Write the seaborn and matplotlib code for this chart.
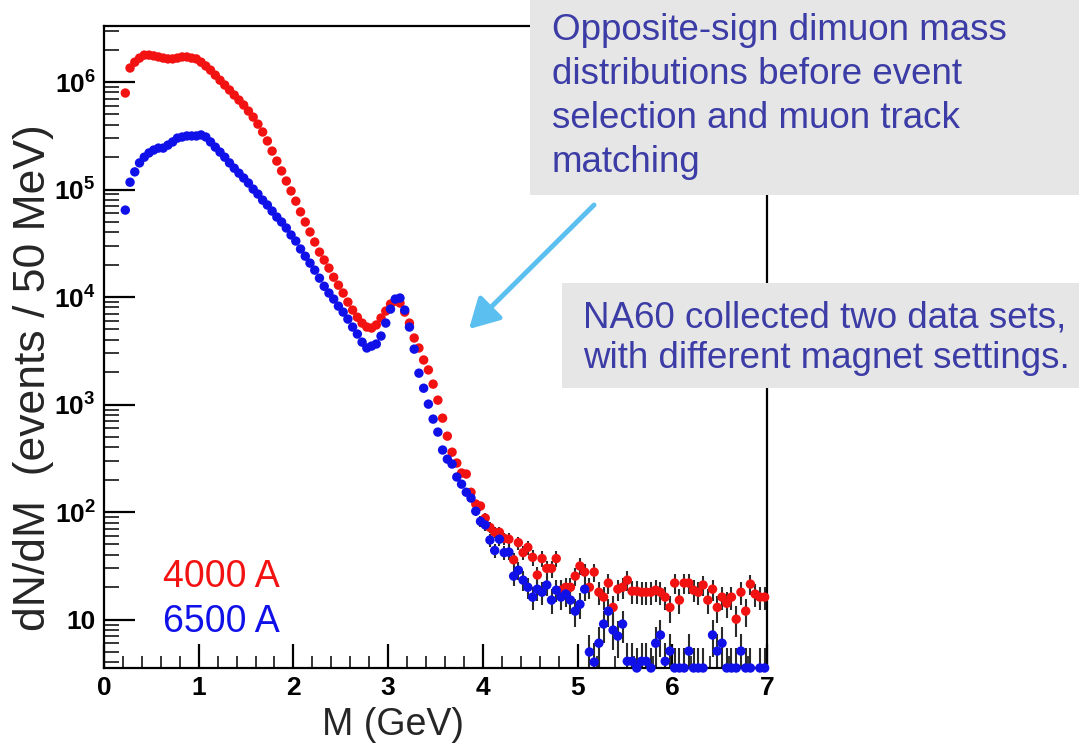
import numpy as np
import pandas as pd
import matplotlib
matplotlib.use("Agg")
import matplotlib.pyplot as plt
import seaborn as sns
from matplotlib import font_manager
from matplotlib.patches import Rectangle, FancyArrowPatch
from matplotlib.ticker import LogLocator, FixedLocator, FixedFormatter, NullFormatter, MultipleLocator

# ---------------- data ----------------
mass_gev = np.round(np.arange(0.225, 7.0, 0.05), 3)   # 50 MeV bin centres

counts_4000A = [
    790000, 1350000, 1530000, 1670000, 1780000, 1780000, 1750000, 1710000, 1670000, 1640000,
    1640000, 1670000, 1710000, 1710000, 1670000, 1640000, 1530000, 1410000, 1290000, 1160000,
    1040000, 938000, 843000, 757000, 680000, 611000, 537000, 472000, 406000, 343000,
    283000, 228000, 184000, 149000, 120000, 97000, 78000, 62000, 49900, 40300,
    32500, 26200, 22100, 18600, 15300, 12900, 10900, 8980, 7570, 6500,
    5730, 5260, 5150, 5500, 6380, 7410, 8610, 9180, 8800, 7250,
    5730, 4160, 3360, 2600, 2100, 1550, 1100, 748, 509, 361,
    286, 231, 226, 153, 119, 114, 88, 72, 65, 65,
    57, 56, 36, 52, 42, 47, 38, 26, 37, 30,
    30, 37, 18.8, 20, 20, 25.4, 31.5, 27.7, 20, 27.7,
    18, 16.2, 21.9, 13, 19.2, 20, 23.3, 18.4, 18.4, 18,
    18, 18, 18.8, 18, 16.2, 13, 21.9, 15.2, 21.9, 21.9,
    18.8, 18, 21, 15.2, 19.2, 13, 16.2, 14.2, 16.2, 10.1,
    18, 12, 21.4, 17.3, 16.2, 16.2,
]

counts_6500A = [
    64400, 117000, 146000, 177000, 200000, 219000, 233000, 243000, 243000, 259000,
    277000, 301000, 308000, 315000, 315000, 315000, 322000, 308000, 277000, 248000,
    223000, 200000, 177000, 158000, 142000, 128000, 115000, 101000, 90800, 79800,
    71800, 63100, 55500, 49900, 43900, 37800, 33200, 28000, 24000, 20700,
    17800, 15000, 12600, 10900, 9580, 8240, 7250, 6240, 5260, 4530,
    3810, 3360, 3500, 3660, 4340, 5730, 7730, 9580, 9800, 7570,
    5260, 3280, 1960, 1420, 1010, 733, 555, 378, 311, 280,
    212, 182, 153, 135, 102, 82, 76, 55, 44, 56,
    42, 42.5, 25.4, 28.8, 23.3, 20, 16.2, 19.2, 18, 21,
    15.2, 18.8, 16.2, 17.3, 15.2, 12, 13.9, 19.2, 5.0, 4.03,
    6.04, 9.1, 12, 8.0, 7.03, 9.1, 4.1, 4.1, 3.55, 4.1,
    4.1, 3.55, 6.04, 7.2, 4.1, 5.1, 3.55, 3.55, 3.55, 5.1,
    3.55, 3.55, 3.55, np.nan, 7.2, 5.1, 6.04, 3.55, 3.55, 3.55,
    5.1, 3.55, 3.55, np.nan, 3.55, 3.55,
]

series_names = ["4000 A", "6500 A"]
series_colors = {"4000 A": "#f21212", "6500 A": "#1010e8"}

x_ticks = [0, 1, 2, 3, 4, 5, 6, 7]
y_ticks = [10, 1e2, 1e3, 1e4, 1e5, 1e6]

df = pd.concat([
    pd.DataFrame({"M": mass_gev, "N": counts_4000A, "set": "4000 A"}),
    pd.DataFrame({"M": mass_gev, "N": counts_6500A, "set": "6500 A"}),
], ignore_index=True).dropna()

# ---------------- style ----------------
sns.set_style("ticks")
avail = {f.name for f in font_manager.fontManager.ttflist}
narrow = "Liberation Sans Narrow" if "Liberation Sans Narrow" in avail else "Liberation Sans"
plt.rcParams["font.family"] = ["Liberation Sans", "DejaVu Sans"]
plt.rcParams["mathtext.fontset"] = "custom"
plt.rcParams["mathtext.rm"] = narrow + ":bold"
plt.rcParams["mathtext.bf"] = narrow + ":bold"
plt.rcParams["mathtext.it"] = narrow + ":bold"

fig = plt.figure(figsize=(10.79, 7.47), dpi=100)
fig.patch.set_facecolor("white")
W, H = 1079, 747
ax = fig.add_axes([104 / W, 1 - 668 / H, (767 - 104) / W, (668 - 26) / H])
ax.set_facecolor("white")

# error bars (Poisson) beneath the markers
for name in series_names:
    d = df[df["set"] == name]
    n = d["N"].to_numpy()
    err = np.sqrt(n)
    lo = np.minimum(err, n * 0.999)
    ax.errorbar(d["M"], n, yerr=[lo, err], fmt="none", ecolor="#2a2a2a",
                elinewidth=1.5, capsize=0, zorder=1)

sns.scatterplot(data=df, x="M", y="N", hue="set", hue_order=series_names,
                palette=series_colors, s=46, linewidth=0, edgecolor="none",
                legend=False, ax=ax, zorder=3)
for coll in ax.collections:
    if coll.__class__.__name__ == "PathCollection":
        coll.set_clip_on(False)

ax.set_xlabel("")
ax.set_ylabel("")
ax.set_yscale("log")
ax.set_xlim(0, 7)
ax.set_ylim(3.55, 3.32e6)

ax.xaxis.set_major_locator(FixedLocator(x_ticks))
ax.xaxis.set_minor_locator(MultipleLocator(0.2))
ax.set_xticklabels([str(t) for t in x_ticks])
ax.yaxis.set_major_locator(FixedLocator(y_ticks))
ax.yaxis.set_major_formatter(FixedFormatter(
    ["10"] + [r"$\mathbf{10^{%d}}$" % p for p in range(2, 7)]))
ax.yaxis.set_minor_locator(LogLocator(base=10, subs=np.arange(2, 10), numticks=20))
ax.yaxis.set_minor_formatter(NullFormatter())

ax.tick_params(axis="both", which="major", direction="in", width=1.6, colors="black",
               labelsize=19)
ax.tick_params(axis="x", which="major", length=17, pad=6)
ax.tick_params(axis="y", which="major", length=22, pad=6)
ax.tick_params(axis="x", which="minor", direction="in", length=9, width=1.3)
ax.tick_params(axis="y", which="minor", direction="in", length=11, width=1.3)
for lab in ax.get_xticklabels() + ax.get_yticklabels():
    lab.set_fontfamily(narrow)
    lab.set_fontweight("bold")

for sp in ax.spines.values():
    sp.set_linewidth(1.6)
    sp.set_color("black")

# axis titles (placed as in the reference)
fig.text(393 / W, 1 - 725 / H, "M (GeV)", fontsize=27, ha="center", va="center")
fig.text(34 / W, 1 - 378 / H, "dN/dM  (events / 50 MeV)", fontsize=32,
         rotation=90, ha="center", va="center")

# series labels
fig.text(163 / W, 1 - 577 / H, series_names[0], color=series_colors[series_names[0]],
         fontsize=27, va="center", ha="left")
fig.text(163 / W, 1 - 622 / H, series_names[1], color=series_colors[series_names[1]],
         fontsize=27, va="center", ha="left")

# annotation boxes
box_color = "#e6e6e6"
text_color = "#3c3ca6"
fig.add_artist(Rectangle((530 / W, 1 - 195 / H), 1 - 530 / W, 195 / H,
                         transform=fig.transFigure, facecolor=box_color,
                         edgecolor="none", zorder=10))
fig.text(552 / W, 1 - 13 / H,
         "Opposite-sign dimuon mass\ndistributions before event\nselection and muon track\nmatching",
         color=text_color, fontsize=26.5, va="top", ha="left", linespacing=1.33, zorder=11)

fig.add_artist(Rectangle((562 / W, 1 - 388 / H), 1 - 562 / W, (388 - 283) / H,
                         transform=fig.transFigure, facecolor=box_color,
                         edgecolor="none", zorder=10))
fig.text(583 / W, 1 - 301 / H,
         "NA60 collected two data sets,\nwith different magnet settings.",
         color=text_color, fontsize=26.5, va="top", ha="left", linespacing=1.17, zorder=11)

arrow = FancyArrowPatch((596 / W, 1 - 203 / H), (467 / W, 1 - 331 / H),
                        transform=fig.transFigure,
                        arrowstyle="-|>,head_length=0.9,head_width=0.5",
                        mutation_scale=20, lw=3.5, color="#5bbff0", zorder=12)
fig.add_artist(arrow)

fig.savefig("out.png", dpi=100)
